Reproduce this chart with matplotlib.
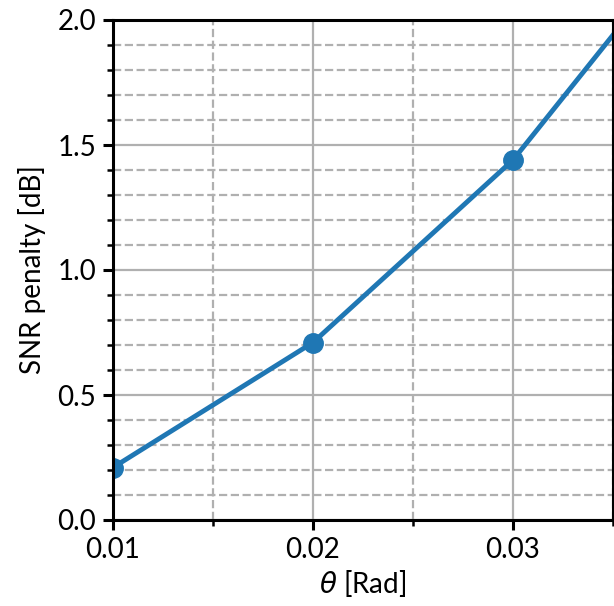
import numpy as np
import matplotlib.pyplot as plt
from matplotlib.ticker import MultipleLocator

theta = [0.01, 0.02, 0.03, 0.04]
penalty = [0.21, 0.71, 1.44, 2.44]

plt.rcParams['font.family'] = ['Lato', 'DejaVu Sans']
plt.rcParams['mathtext.fontset'] = 'dejavusans'

fig = plt.figure(figsize=(6.14, 6.06), dpi=100)
ax = fig.add_axes([113/614, 86/606, 500/614, 500/606])

ax.plot(theta, penalty, '-o', color='#1f77b4', lw=3.5, ms=14, clip_on=True)

ax.set_xlim(0.01, 0.035)
ax.set_ylim(0, 2.0)
ax.set_xticks([0.01, 0.02, 0.03])
ax.set_xticklabels(['0.01', '0.02', '0.03'])
ax.xaxis.set_minor_locator(MultipleLocator(0.005))
ax.yaxis.set_major_locator(MultipleLocator(0.5))
ax.yaxis.set_minor_locator(MultipleLocator(0.1))

ax.grid(which='major', color='#b0b0b0', lw=1.6, ls='-')
ax.grid(which='minor', color='#b0b0b0', lw=1.6, ls='--')
ax.set_axisbelow(True)

for s in ax.spines.values():
    s.set_linewidth(2.2)
ax.tick_params(which='major', length=7, width=2.2, labelsize=20, pad=5)
ax.tick_params(which='minor', length=4, width=1.8)

ax.set_xlabel(r'$\theta$ [Rad]', fontsize=20, labelpad=4)
ax.set_ylabel('SNR penalty [dB]', fontsize=20, labelpad=8)

fig.savefig('out.png', dpi=100)
